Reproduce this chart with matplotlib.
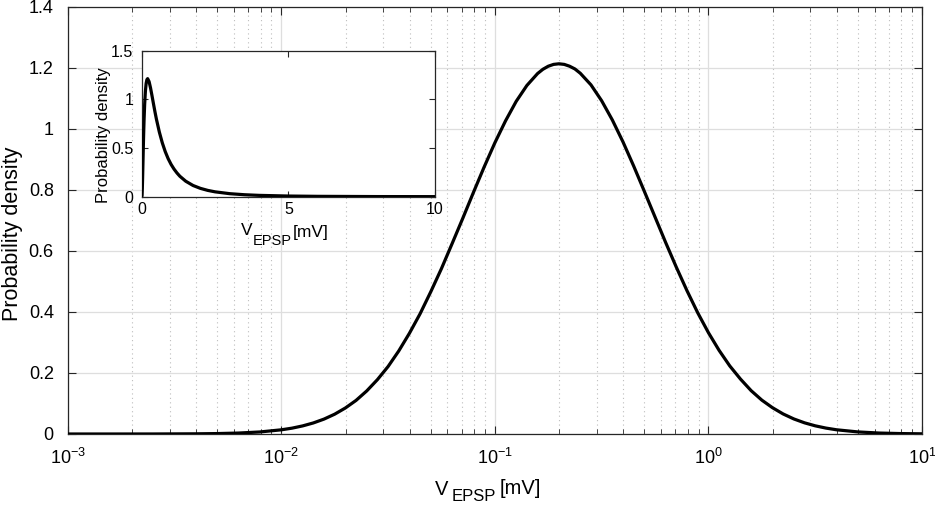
import matplotlib
matplotlib.use("Agg")
import matplotlib.pyplot as plt
from matplotlib.ticker import FixedLocator, LogLocator, NullFormatter, FixedFormatter

plt.rcParams['font.family'] = ['Liberation Sans', 'DejaVu Sans']
plt.rcParams['mathtext.fontset'] = 'custom'
plt.rcParams['mathtext.rm'] = 'Liberation Sans'
plt.rcParams['mathtext.it'] = 'Liberation Sans'
plt.rcParams['mathtext.default'] = 'regular'
plt.rcParams['axes.unicode_minus'] = False

# ---- data read from the main (log-x) panel: log10 of V_EPSP and density ----
main_log10_v = [-3.0, -2.8, -2.6, -2.4, -2.3, -2.2, -2.1, -2.0, -1.95, -1.9, -1.85,
                -1.8, -1.75, -1.7, -1.65, -1.6, -1.55, -1.5, -1.45, -1.4, -1.35,
                -1.3, -1.25, -1.2, -1.15, -1.1, -1.05, -1.0, -0.95, -0.9, -0.85,
                -0.8, -0.775, -0.75, -0.725, -0.7, -0.675, -0.65, -0.625, -0.6, -0.55,
                -0.5, -0.45, -0.4, -0.35,
                -0.3, -0.25, -0.2, -0.15, -0.1, -0.05, 0.0, 0.05, 0.1, 0.15,
                0.2, 0.25, 0.3, 0.35, 0.4, 0.45, 0.5, 0.55, 0.6, 0.7, 0.8, 0.9, 1.0]
main_density = [0.0, 0.00001, 0.00008, 0.0006, 0.0014, 0.0031, 0.0067, 0.0137, 0.0191, 0.0265, 0.0362,
                0.0488, 0.0649, 0.0852, 0.110, 0.141, 0.178, 0.221, 0.272, 0.330, 0.394,
                0.466, 0.542, 0.624, 0.707, 0.792, 0.875, 0.954, 1.026, 1.090, 1.142,
                1.181, 1.195, 1.205, 1.211, 1.213, 1.211, 1.205, 1.196, 1.182, 1.144,
                1.092, 1.029, 0.957, 0.878,
                0.795, 0.711, 0.627, 0.546, 0.469, 0.397, 0.332, 0.274, 0.223, 0.180,
                0.142, 0.111, 0.0861, 0.0656, 0.0493, 0.0366, 0.0268, 0.0194, 0.0138, 0.0068, 0.0031, 0.0014, 0.0006]

# ---- data (linear x) ----
inset_v = [0.0, 0.01, 0.02, 0.03, 0.04, 0.05, 0.06, 0.07, 0.08, 0.1, 0.125, 0.15, 0.175, 0.2,
           0.25, 0.3, 0.35, 0.4, 0.45, 0.5, 0.6, 0.7, 0.8, 0.9, 1.0, 1.1, 1.2, 1.3, 1.5,
           1.75, 2.0, 2.25, 2.5, 3.0, 3.5, 4.0, 5.0, 6.0, 8.0, 10.0]
inset_density = [0.0, 0.0137, 0.0856, 0.200, 0.332, 0.464, 0.588, 0.699, 0.797, 0.954, 1.086, 1.164, 1.202, 1.213,
                 1.183, 1.117, 1.037, 0.954, 0.873, 0.797, 0.664, 0.554, 0.464, 0.391, 0.332, 0.284, 0.244, 0.210, 0.159,
                 0.115, 0.0856, 0.0648, 0.050, 0.031, 0.0202, 0.0137, 0.0068, 0.0037, 0.0013, 0.0006]

main_xticks = [1e-3, 1e-2, 1e-1, 1e0, 1e1]
main_xticklabels = [r'$10^{-3}$', r'$10^{-2}$', r'$10^{-1}$', r'$10^{0}$', r'$10^{1}$']
main_yticks = [0, 0.2, 0.4, 0.6, 0.8, 1, 1.2, 1.4]
main_yticklabels = ['0', '0.2', '0.4', '0.6', '0.8', '1', '1.2', '1.4']
inset_xticks = [0, 5, 10]
inset_yticks = [0, 0.5, 1, 1.5]
inset_yticklabels = ['0', '0.5', '1', '1.5']

ylabel = 'Probability density'
xlabel_parts = ('V', 'EPSP', '[mV]')

axc = '#262626'
W, H = 935, 505

fig = plt.figure(figsize=(9.35, 5.05), dpi=100)
ax = fig.add_axes([0.0724, 0.1406, 0.9137, 0.8461])

v_main = [10 ** l for l in main_log10_v]
ax.plot(v_main, main_density, color='black', lw=2.3, zorder=3)
ax.set_xscale('log')
ax.set_xlim(1e-3, 1e1)
ax.set_ylim(0, 1.4)
ax.xaxis.set_major_locator(FixedLocator(main_xticks))
ax.xaxis.set_major_formatter(FixedFormatter(main_xticklabels))
ax.xaxis.set_minor_locator(LogLocator(base=10, subs=range(2, 10), numticks=50))
ax.xaxis.set_minor_formatter(NullFormatter())
ax.set_yticks(main_yticks)
ax.set_yticklabels(main_yticklabels)
ax.grid(True, which='major', color='#dedede', lw=0.9, ls='-')
ax.grid(True, which='minor', axis='x', color='#bdbdbd', lw=0.8, ls=(0, (1, 3)))
ax.set_axisbelow(True)
ax.tick_params(which='both', direction='in', top=True, right=True, colors=axc, labelcolor='black')
ax.tick_params(which='major', length=6, width=0.8, labelsize=13)
ax.tick_params(axis='y', which='major', pad=10)
ax.tick_params(axis='x', which='major', pad=10)
ax.tick_params(which='minor', length=3.5, width=0.6)
for s in ax.spines.values():
    s.set_color(axc)
    s.set_linewidth(0.9)
ax.set_ylabel(ylabel, fontsize=15.5)
ax.yaxis.set_label_coords(-0.0525, 0.469)

# main x label built from pieces (MATLAB-style subscript)
fig.text(435 / W, (H - 495) / H, xlabel_parts[0], fontsize=14.5, ha='left', va='baseline')
fig.text(452 / W, (H - 501) / H, xlabel_parts[1], fontsize=12, ha='left', va='baseline')
fig.text(500 / W, (H - 494) / H, xlabel_parts[2], fontsize=14.5, ha='left', va='baseline')

# ---- inset ----
ins = fig.add_axes([0.1516, 0.6105, 0.3137, 0.2891])
ins.set_facecolor('white')
ins.plot(inset_v, inset_density, color='black', lw=2.3, zorder=3)
ins.set_xlim(0, 10)
ins.set_ylim(0, 1.5)
ins.set_xticks(inset_xticks)
ins.set_yticks(inset_yticks)
ins.set_yticklabels(inset_yticklabels)
ins.tick_params(direction='in', top=True, right=True, length=4, width=0.8,
                colors=axc, labelcolor='black', labelsize=11.5)
ins.tick_params(axis='y', pad=6)
ins.tick_params(axis='x', pad=4)
for s in ins.spines.values():
    s.set_color(axc)
    s.set_linewidth(0.9)
ins.set_ylabel(ylabel, fontsize=12)
ins.yaxis.set_label_coords(-0.105, 0.423)

fig.text(241 / W, (H - 235) / H, xlabel_parts[0], fontsize=12.5, ha='left', va='baseline')
fig.text(253 / W, (H - 245) / H, xlabel_parts[1], fontsize=10.5, ha='left', va='baseline')
fig.text(293 / W, (H - 237) / H, xlabel_parts[2], fontsize=12.5, ha='left', va='baseline')

fig.savefig('out.png', dpi=100)
